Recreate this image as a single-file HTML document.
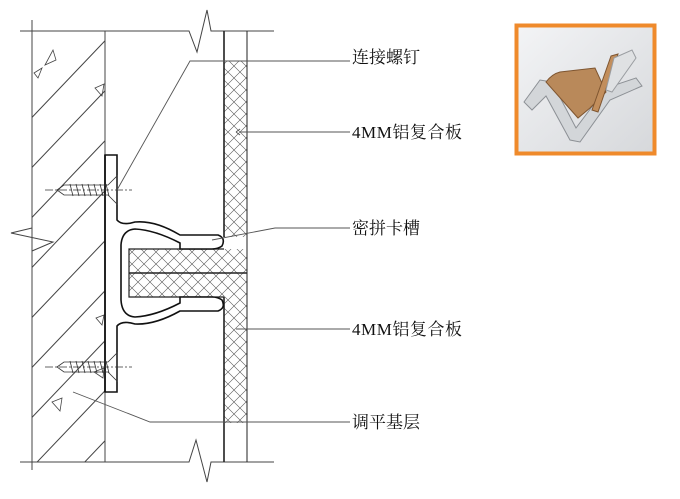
<!DOCTYPE html>
<html><head><meta charset="utf-8"><style>
html,body{margin:0;padding:0;background:#fff;width:680px;height:499px;overflow:hidden;}
svg{display:block}
text{font-family:"Liberation Serif","Noto Serif CJK SC",serif;font-size:17px;fill:#111}
</style></head><body>
<svg width="680" height="499" viewBox="0 0 680 499" xmlns="http://www.w3.org/2000/svg">
<defs>
<clipPath id="wall"><rect x="32" y="31" width="73" height="431"/></clipPath>
<pattern id="xh" width="12" height="12" patternUnits="userSpaceOnUse">
<path d="M0,0L12,12M12,0L0,12" stroke="#555" stroke-width="0.6"/>
</pattern>
<linearGradient id="bg" x1="0" y1="0" x2="1" y2="1"><stop offset="0" stop-color="#f3f4f6"/><stop offset="1" stop-color="#d6d8db"/></linearGradient>
</defs>
<g stroke="#444" stroke-width="1" fill="none">
<path d="M20,31H189L197,52L207,10L211,31H274"/>
<path d="M20,462H189L196,440L207,482L211,462H274"/>
<line x1="32" y1="20" x2="32" y2="470"/>
<line x1="105" y1="31" x2="105" y2="462"/>
<path d="M32,228L11,233L53,242L32,251" />
<g clip-path="url(#wall)">
<path d="M20,130L120,25M20,180L120,75M20,230L120,125M20,280L120,175M20,330L120,225M20,380L120,275M20,430L120,325M20,480L120,375M20,530L120,425M20,580L120,475"/>
</g>
<path d="M45,65L53,50L56,60Z M34,73L42,68L38,78Z M95,88L104,84L102,96Z M96,318L104,315L102,325Z M94,372L104,368L103,378Z M52,402L62,398L60,411Z" stroke-width="0.8"/>
</g>
<rect x="224" y="61" width="23" height="176" fill="url(#xh)"/>
<rect x="129" y="249" width="118" height="48" fill="url(#xh)"/>
<rect x="224" y="297" width="23" height="126" fill="url(#xh)"/>
<g stroke="#222" fill="none">
<line x1="224" y1="31" x2="224" y2="237" stroke-width="1.6"/>
<line x1="247" y1="31" x2="247" y2="462" stroke-width="1"/>
<line x1="224" y1="297" x2="224" y2="462" stroke-width="1.6"/>
<path d="M224,249H129V297H224" stroke-width="1.2"/>
<line x1="129" y1="273" x2="247" y2="273" stroke-width="1.4"/>
</g>
<path d="M105,155H117V220Q122,226 135,222Q155,220 180,235H218Q226,238 222,246Q218,249 212,249H180V243Q155,230 135,229Q122,230 121,245V300Q122,316 135,317Q155,316 180,303V297H212Q218,297 222,300Q226,308 218,311H180Q155,325 135,324Q122,320 117,326V392H105Z" fill="#fff" stroke="#111" stroke-width="1.6"/>
<line x1="105" y1="155" x2="105" y2="392" stroke="#111" stroke-width="1.6"/>
<g stroke="#333" stroke-width="0.8" fill="none">
<line x1="45" y1="190" x2="132" y2="190" stroke-dasharray="8,2,2,2"/>
<path d="M57,190L64,185H108L117,176V204L108,195H64Z"/>
<path d="M70,184L73,196M76,184L79,196M82,184L85,196M88,184L91,196M94,184L97,196M100,184L103,196M106,184L109,196"/>
<line x1="45" y1="367" x2="132" y2="367" stroke-dasharray="8,2,2,2"/>
<path d="M57,367L64,362H108L117,353V381L108,372H64Z"/>
<path d="M70,361L73,373M76,361L79,373M82,361L85,373M88,361L91,373M94,361L97,373M100,361L103,373M106,361L109,373"/>
</g>
<g stroke="#555" stroke-width="0.9" fill="none">
<path d="M350,61H190L117,190"/>
<path d="M350,132H240"/>
<path d="M236,132l4,-3M236,132l4,3"/>
<path d="M350,228H275L212,240"/>
<path d="M350,329H236"/>
<path d="M350,422H150L73,392"/>
</g>
<text x="352" y="63">连接螺钉</text>
<text x="352" y="138" textLength="110">4MM铝复合板</text>
<text x="352" y="234">密拼卡槽</text>
<text x="352" y="335" textLength="110">4MM铝复合板</text>
<text x="352" y="428">调平基层</text>
<rect x="516.5" y="25.5" width="138" height="128" fill="url(#bg)" stroke="#ef8a2b" stroke-width="4"/>
<path d="M524,102L540,80L552,82L576,128L606,88L636,78L642,86L610,100L580,142L570,140L546,96L532,110Z" fill="#d3d6d9" stroke="#8c9095" stroke-width="1"/>
<path d="M546,82Q552,74 560,72L595,68L606,92L590,108L578,118Z" fill="#b9895a" stroke="#7e5530" stroke-width="1"/>
<path d="M611,56L618,54L598,112L592,110Z" fill="#c28e5c" stroke="#7e5530" stroke-width="1"/>
<path d="M614,58L632,50L636,58L612,92L606,90Z" fill="#dfe1e3" stroke="#9a9da1"/>
</svg>
</body></html>
